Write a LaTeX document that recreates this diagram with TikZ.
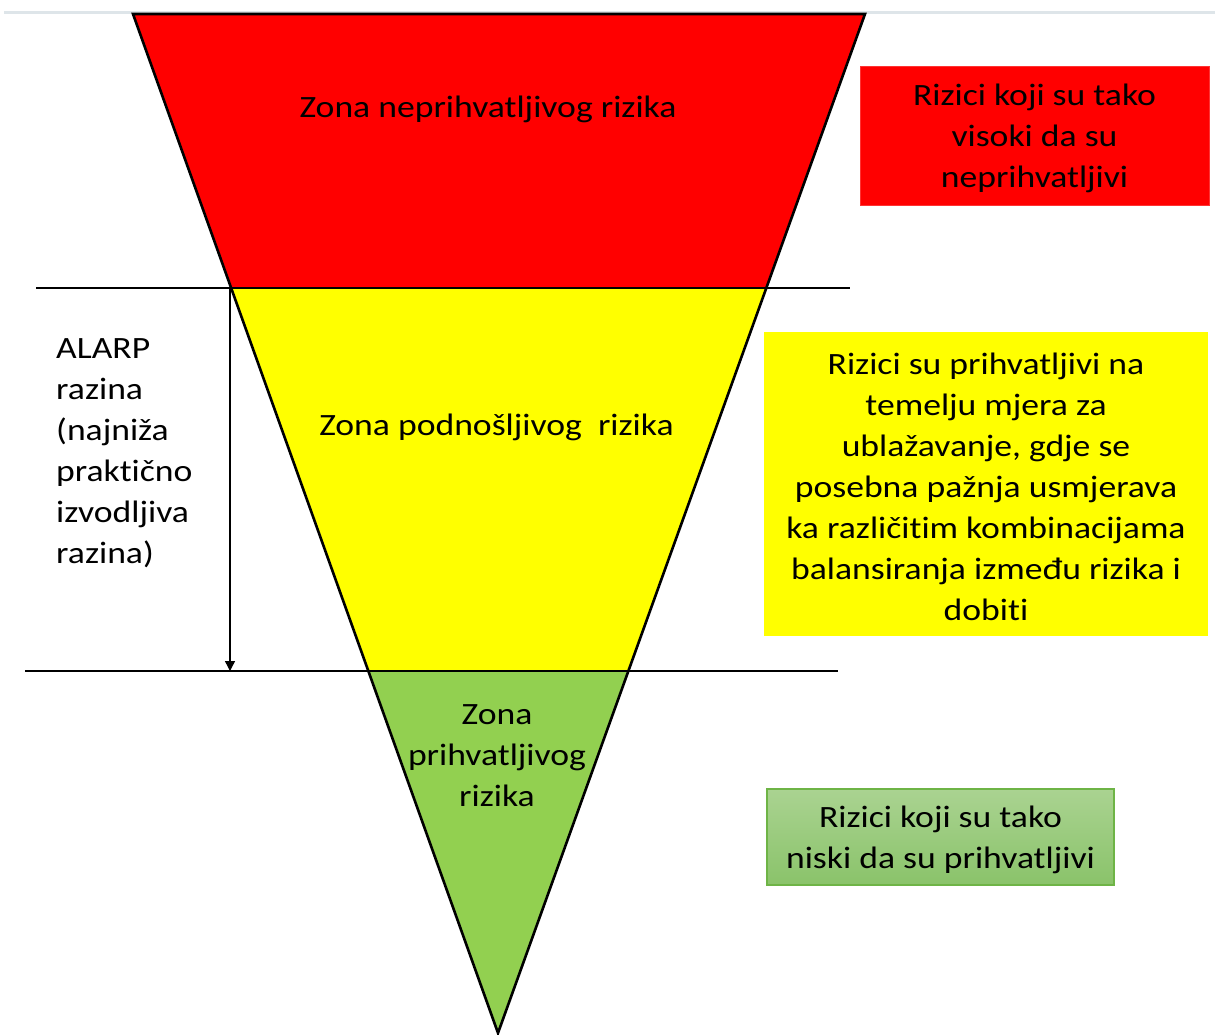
\documentclass[tikz,border=0pt]{standalone}
\usepackage{fontspec}
\setmainfont{Carlito}[FakeStretch=1.15,Ligatures=NoCommon]
\usetikzlibrary{arrows.meta}
\definecolor{zred}{RGB}{255,0,0}
\definecolor{zyellow}{RGB}{255,255,0}
\definecolor{zgreen}{RGB}{146,208,80}
\definecolor{gtop}{RGB}{170,211,145}
\definecolor{gbot}{RGB}{138,195,106}
\definecolor{gedge}{RGB}{110,180,70}
\definecolor{topline}{RGB}{222,229,233}
\begin{document}
\begin{tikzpicture}[x=1pt,y=-1pt,
  txt/.style={font=\fontsize{31}{41}\selectfont, align=center, inner sep=0pt, yshift=-2.5pt},
  zone/.style={draw=black, line width=2.6pt, line join=miter},
  level/.style={draw=black, line width=1.7pt},
  redbox/.style={fill=zred, draw=zred!80!white, line width=0.6pt, inner sep=0pt},
  yellowbox/.style={fill=zyellow, inner sep=0pt},
  greenbox/.style={top color=gtop, bottom color=gbot, draw=gedge, line width=1.2pt, inner sep=0pt},
  arrowline/.style={draw=black, line width=1.4pt, -{Triangle[length=10pt,width=10pt]}}
]
\useasboundingbox (0,0) rectangle (1215,1035);
% faint top rule
\draw[topline, line width=3pt] (4,12.5) -- (1215,12.5);
% triangle corners
\coordinate (T1) at (133,14);
\coordinate (T2) at (865,14);
\coordinate (A) at (498,1033);
\coordinate (L1) at (231.1,288);
\coordinate (R1) at (766.3,288);
\coordinate (L2) at (368.3,671);
\coordinate (R2) at (628.4,671);
% zones
\fill[zred] (T1) -- (T2) -- (R1) -- (L1) -- cycle;
\fill[zyellow] (L1) -- (R1) -- (R2) -- (L2) -- cycle;
\fill[zgreen] (L2) -- (R2) -- (A) -- cycle;
\draw[zone] (T1) -- (T2) -- (A) -- cycle;
% level lines
\coordinate (H1a) at (36,288);
\coordinate (H1b) at (850,288);
\coordinate (H2a) at (25,671);
\coordinate (H2b) at (838,671);
\draw[level] (H1a) -- (H1b);
\draw[level] (H2a) -- (H2b);
% ALARP arrow
\coordinate (arrTop) at (230,288);
\coordinate (arrBot) at (230,671);
\draw[arrowline] (arrTop) -- (arrBot);
% zone labels
\node[txt] (z1) at (488,107) {Zona neprihvatljivog rizika};
\node[txt] (z2) at (496.5,425) {Zona podnošljivog\ \ rizika};
\node[txt] (z3) at (497,753) {Zona\\prihvatljivog\\rizika};
% ALARP label
\node[txt, align=left, anchor=west] (alarp) at (56,451) {ALARP\\razina\\(najniža\\praktično\\izvodljiva\\razina)};
% info boxes
\node[redbox, minimum width=349pt, minimum height=139pt] (rbox) at (1034.5,135.5) {};
\node[txt] (rtxt) at (rbox.center) {Rizici koji su tako\\visoki da su\\neprihvatljivi};
\node[yellowbox, minimum width=444pt, minimum height=304pt] (ybox) at (986,484) {};
\node[txt] (ytxt) at (ybox.center)
  {Rizici su prihvatljivi na\\temelju mjera za\\ublažavanje, gdje se\\posebna pažnja usmjerava\\ka različitim kombinacijama\\balansiranja između rizika i\\dobiti};
\node[greenbox, minimum width=347pt, minimum height=96pt] (gbox) at (940.5,837) {};
\node[txt] (gtxt) at (gbox.center) {Rizici koji su tako\\niski da su prihvatljivi};
\end{tikzpicture}
\end{document}
